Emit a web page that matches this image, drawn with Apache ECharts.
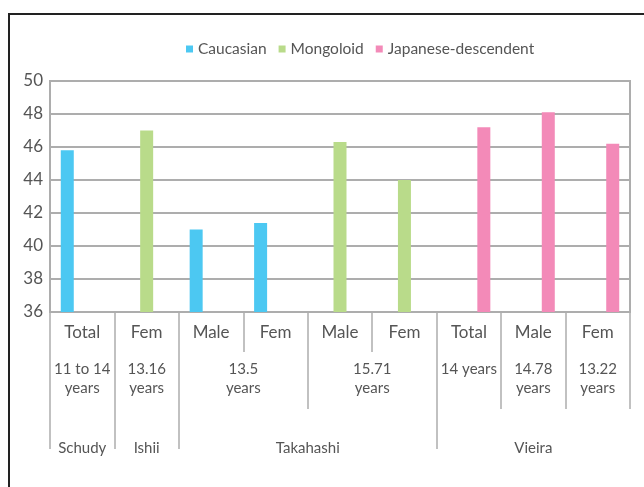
<!DOCTYPE html>
<html>
<head>
<meta charset="utf-8">
<script src="https://cdn.jsdelivr.net/npm/echarts@6/dist/echarts.min.js"></script>
<style>
    html, body { margin: 0; padding: 0; background: #fff; }
    #frame { position: absolute; left: 8px; top: 13px; width: 700px; height: 500px;
             border-left: 2px solid #222; border-top: 2px solid #222; }
    #chart { position: absolute; left: 0; top: 0; width: 644px; height: 487px; }
</style>
</head>
<body>
<div id="frame"></div>
<div id="chart"></div>
<script>
// categories (level 1 of the x axis)
var groups = ['Total', 'Fem', 'Male', 'Fem', 'Male', 'Fem', 'Total', 'Male', 'Fem'];
// level 2: age, with how many categories each one covers
var ageGroups = [
    ['11 to 14\nyears', 1],
    ['13.16\nyears', 1],
    ['13.5\nyears', 2],
    ['15.71\nyears', 2],
    ['14 years', 1],
    ['14.78\nyears', 1],
    ['13.22\nyears', 1]
];
// level 3: study
var studies = [['Schudy', 1], ['Ishii', 1], ['Takahashi', 4], ['Vieira', 3]];

var seriesNames = ['Caucasian', 'Mongoloid', 'Japanese-descendent'];
var caucasian = [45.8, null, 41.0, 41.4, null, null, null, null, null];
var mongoloid = [null, 47.0, null, null, 46.3, 44.0, null, null, null];
var japanese = [null, null, null, null, null, null, 47.2, 48.1, 46.2];
var colors = ['#4cc8f2', '#b9db8a', '#f38ab8'];

var yTicks = {min: 36, max: 50, step: 2};

var textColor = '#555';
var lineColor = '#adadad';
var font = 'Lato';

// one slot per half category, so that a label can sit on a span middle
function halfAxis(spans) {
    var n = groups.length * 2 + 1;
    var labels = [];
    for (var i = 0; i < n; i++) labels.push('');
    var ticks = {0: true};
    var pos = 0;
    spans.forEach(function (s) {
        labels[pos * 2 + s[1]] = s[0];
        pos += s[1];
        ticks[pos * 2] = true;
    });
    var data = labels.map(function (l, i) { return String(i); });
    return {labels: labels, ticks: ticks, data: data};
}

var ageAxis = halfAxis(ageGroups);
var studyAxis = halfAxis(studies);

function levelAxis(ax, offset, tickLen, margin, noLastTick) {
    return {
        type: 'category',
        position: 'bottom',
        gridIndex: 0,
        offset: offset,
        boundaryGap: false,
        data: ax.data,
        axisLine: {show: false},
        axisTick: {
            show: true,
            length: tickLen,
            interval: function (idx) {
                if (noLastTick && idx === ax.data.length - 1) return false;
                return !!ax.ticks[idx];
            },
            lineStyle: {color: lineColor, width: 1.5}
        },
        axisLabel: {
            interval: function (idx) { return ax.labels[idx] !== ''; },
            formatter: function (v) { return ax.labels[+v]; },
            color: textColor,
            fontFamily: font,
            fontSize: 15,
            lineHeight: 19,
            margin: margin,
            verticalAlign: 'top'
        },
        splitLine: {show: false}
    };
}

var chart = echarts.init(document.getElementById('chart'));

var option = {
    animation: false,
    color: colors,
    legend: {
        top: 36,
        left: 181,
        icon: 'rect',
        itemWidth: 7,
        itemHeight: 7,
        itemGap: 12,
        textStyle: {color: textColor, fontFamily: font, fontSize: 15.5},
        data: seriesNames
    },
    grid: {
        left: 50, right: 14, top: 81, bottom: 175,
        show: true, borderColor: lineColor, borderWidth: 2
    },
    xAxis: [
        {
            type: 'category',
            data: groups,
            axisLine: {lineStyle: {color: lineColor, width: 2}},
            axisTick: {show: true, interval: 0, length: 40, lineStyle: {color: lineColor, width: 1.5}},
            axisLabel: {
                interval: 0, color: textColor, fontFamily: font, fontSize: 17,
                margin: 12, verticalAlign: 'top'
            }
        },
        levelAxis(ageAxis, 40, 57, 8, false),
        levelAxis(studyAxis, 97, 40, 30, true)
    ],
    yAxis: {
        type: 'value',
        min: yTicks.min,
        max: yTicks.max,
        interval: yTicks.step,
        axisLine: {show: true, lineStyle: {color: lineColor, width: 2}},
        axisTick: {show: false},
        axisLabel: {color: textColor, fontFamily: font, fontSize: 17, margin: 7},
        splitLine: {lineStyle: {color: lineColor, width: 2}}
    },
    series: [
        {name: seriesNames[0], type: 'bar', data: caucasian, barWidth: 13, barGap: '15%'},
        {name: seriesNames[1], type: 'bar', data: mongoloid, barWidth: 13, barGap: '15%'},
        {name: seriesNames[2], type: 'bar', data: japanese, barWidth: 13, barGap: '15%'}
    ]
};

chart.setOption(option);
</script>
</body>
</html>
